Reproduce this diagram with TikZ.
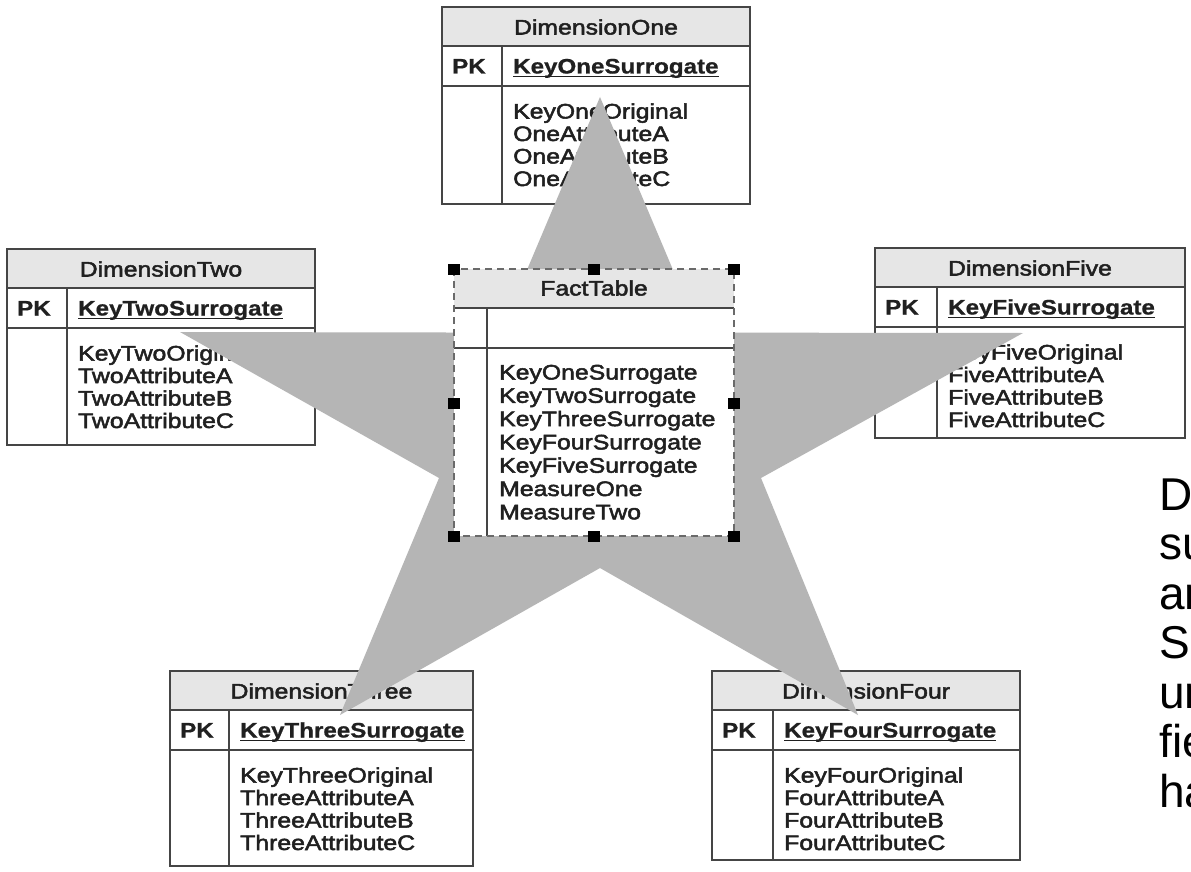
\documentclass[tikz,border=0pt]{standalone}
\usepackage{fontspec}
\setmainfont{Liberation Sans}
\newfontfamily\tblfont{Liberation Sans}[FakeStretch=1.18, FakeBold=2.4]
\newfontfamily\keyfont{Liberation Sans}[FakeStretch=1.15, FakeBold=0.8]
\newfontfamily\notefont{Liberation Sans}

\definecolor{lineclr}{HTML}{454545}
\definecolor{hdrclr}{HTML}{E6E6E6}
\definecolor{starclr}{HTML}{B5B5B5}
\definecolor{txtclr}{HTML}{202020}
\definecolor{dashclr}{HTML}{6A6A6A}

\tikzset{
  tblline/.style={draw=lineclr, line width=1.8pt},
  hdrfill/.style={fill=hdrclr},
  celltext/.style={inner sep=0pt, anchor=base west, text=txtclr,
    font=\tblfont\fontsize{21}{22}\selectfont},
  titletext/.style={celltext, anchor=base},
  keytext/.style={inner sep=0pt, anchor=base west, text=txtclr,
    font=\keyfont\bfseries\fontsize{21}{22}\selectfont},
  keyline/.style={draw=txtclr, line width=1.4pt},
  handle/.style={fill=black, draw=none, inner sep=0pt,
    minimum width=12pt, minimum height=11pt},
  dashframe/.style={draw=dashclr, line width=1.4pt, dash pattern=on 7pt off 5pt},
  notetext/.style={inner sep=0pt, anchor=base west, text=black,
    font=\notefont\fontsize{46}{49}\selectfont},
}

% #1 name, #2 left, #3 top, #4 right, #5 bottom, #6 divider x,
% #7 title, #8 primary key, #9 attribute list
\newcommand{\entitytable}[9]{%
  \fill[hdrfill] (#2,#3) rectangle (#4,#3+39);
  \draw[tblline] (#2,#3) rectangle (#4,#5);
  \draw[tblline] (#2,#3+39) -- (#4,#3+39);
  \draw[tblline] (#2,#3+79) -- (#4,#3+79);
  \draw[tblline] (#6,#3+39) -- (#6,#5);
  \node[titletext] (#1-title) at ({(#2+#4)/2},#3+27.5) {#7};
  \node[keytext] (#1-pk) at (#2+10,#3+66.5) {PK};
  \node[keytext] (#1-key) at (#6+11,#3+66.5) {#8};
  \draw[keyline] ([yshift=-3pt]#1-key.base west) -- ([yshift=-3pt]#1-key.base east);
  \foreach \attr [count=\i] in {#9}
    \node[celltext] (#1-a\i) at (#6+11,{#3+111.5+(\i-1)*22.5}) {\attr};
}

\begin{document}
\begin{tikzpicture}[x=1pt, y=-1pt]
  \useasboundingbox (0,0) rectangle (1191,872);
  \fill[white] (0,0) rectangle (1191,872);
  \clip (0,0) rectangle (1191,872);

  % dimension tables
  \entitytable{dimone}{442}{7}{750}{204}{502}{DimensionOne}{KeyOneSurrogate}
    {KeyOneOriginal,OneAttributeA,OneAttributeB,OneAttributeC}
  \entitytable{dimtwo}{7}{249}{315}{445}{67}{DimensionTwo}{KeyTwoSurrogate}
    {KeyTwoOriginal,TwoAttributeA,TwoAttributeB,TwoAttributeC}
  \entitytable{dimfive}{875}{248}{1185}{438}{937}{DimensionFive}{KeyFiveSurrogate}
    {KeyFiveOriginal,FiveAttributeA,FiveAttributeB,FiveAttributeC}
  \entitytable{dimthree}{170}{671}{473}{866}{229}{DimensionThree}{KeyThreeSurrogate}
    {KeyThreeOriginal,ThreeAttributeA,ThreeAttributeB,ThreeAttributeC}
  \entitytable{dimfour}{712}{671}{1020}{860}{773}{DimensionFour}{KeyFourSurrogate}
    {KeyFourOriginal,FourAttributeA,FourAttributeB,FourAttributeC}

  % star linking the fact table to its dimensions
  \fill[starclr] (600,97) -- (699.5,332.6) -- (1023,333) -- (761,478)
    -- (858,715) -- (600,568) -- (340,715) -- (439,478) -- (180,332)
    -- (500.5,332.6) -- cycle;

  % fact table
  \fill[white] (454,269) rectangle (734,536);
  \fill[hdrfill] (454,269) rectangle (734,308);
  \draw[tblline, line width=1.5pt] (454,308) -- (734,308);
  \draw[tblline, line width=1.5pt] (454,348) -- (734,348);
  \draw[tblline, line width=1.5pt] (487,308) -- (487,536);
  \draw[dashframe] (454,269) rectangle (734,536);
  \node[titletext] (fact-title) at (594,295.5) {FactTable};
  \foreach \attr [count=\i] in {KeyOneSurrogate,KeyTwoSurrogate,KeyThreeSurrogate,
      KeyFourSurrogate,KeyFiveSurrogate,MeasureOne,MeasureTwo}
    \node[celltext] (fact-a\i) at (499,{379.5+(\i-1)*23.3}) {\attr};

  % selection handles
  \node[handle] (h-nw) at (454,269) {};
  \node[handle] (h-n)  at (594,269) {};
  \node[handle] (h-ne) at (734,269) {};
  \node[handle] (h-w)  at (454,403) {};
  \node[handle] (h-e)  at (734,403) {};
  \node[handle] (h-sw) at (454,536) {};
  \node[handle] (h-s)  at (594,536) {};
  \node[handle] (h-se) at (734,536) {};

  % side note, running off the right edge
  \foreach \word [count=\i] in {D,su,an,S,un,fie,ha}
    \node[notetext] (note-\i) at (1159,{510+(\i-1)*49.5}) {\word};
\end{tikzpicture}
\end{document}
